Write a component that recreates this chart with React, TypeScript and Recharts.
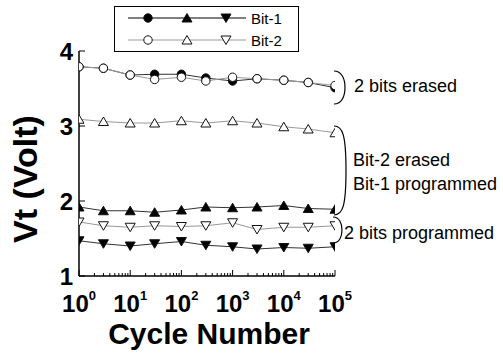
import React from "react";
import { Line, LineChart, XAxis, YAxis } from "recharts";

// cycle counts where Vt was measured
const cycles = [1, 3, 10, 30, 100, 300, 1000, 3000, 10000, 30000, 100000];

// Vt (V) read per state
const bit1Erased = [3.79, 3.77, 3.68, 3.69, 3.69, 3.64, 3.6, 3.63, 3.61, 3.58, 3.51];
const bit2Erased = [3.79, 3.77, 3.68, 3.62, 3.65, 3.6, 3.65, 3.63, 3.61, 3.58, 3.54];
const bit1Mid = [1.92, 1.87, 1.87, 1.85, 1.88, 1.92, 1.91, 1.92, 1.94, 1.9, 1.89];
const bit2Mid = [3.09, 3.06, 3.04, 3.04, 3.07, 3.04, 3.07, 3.04, 2.99, 2.96, 2.91];
const bit1Prog = [1.47, 1.43, 1.4, 1.43, 1.46, 1.41, 1.39, 1.36, 1.38, 1.37, 1.39];
const bit2Prog = [1.72, 1.67, 1.65, 1.67, 1.66, 1.67, 1.71, 1.62, 1.65, 1.65, 1.67];

const xMajorTicks = [1, 10, 100, 1000, 10000, 100000];
const xMinorTicks = xMajorTicks.slice(0, -1).flatMap((d) => [2, 3, 4, 5, 6, 7, 8, 9].map((m) => m * d));
const yTicks = [1, 2, 3, 4];

const FONT = "'Liberation Sans', Arial, Roboto, sans-serif";
const BIT1_LINE = "#333";
const BIT2_LINE = "#999";

type Shape = "circle" | "up" | "down";

const series: Array<{ key: string; values: number[]; shape: Shape; filled: boolean; stroke: string }> = [
  { key: "b1Erased", values: bit1Erased, shape: "circle", filled: true, stroke: BIT1_LINE },
  { key: "b1Mid", values: bit1Mid, shape: "up", filled: true, stroke: BIT1_LINE },
  { key: "b1Prog", values: bit1Prog, shape: "down", filled: true, stroke: BIT1_LINE },
  { key: "b2Erased", values: bit2Erased, shape: "circle", filled: false, stroke: BIT2_LINE },
  { key: "b2Mid", values: bit2Mid, shape: "up", filled: false, stroke: BIT2_LINE },
  { key: "b2Prog", values: bit2Prog, shape: "down", filled: false, stroke: BIT2_LINE },
];

const data = cycles.map((cycle, i) => {
  const row: Record<string, number> = { cycle };
  series.forEach((s) => (row[s.key] = s.values[i]));
  return row;
});

const bold = { fontFamily: FONT, fontWeight: 700 } as const;
const plain = { fontFamily: FONT, fontWeight: 400 } as const;

function Marker({ cx, cy, shape, filled }: { cx: number; cy: number; shape: Shape; filled: boolean }) {
  const fill = filled ? "#000" : "#fff";
  if (shape === "circle") {
    return <circle cx={cx} cy={cy} r={4.2} fill={fill} stroke="#111" strokeWidth={1} />;
  }
  const w = 5;
  const pts =
    shape === "up"
      ? `${cx - w},${cy + 4} ${cx + w},${cy + 4} ${cx},${cy - 4.5}`
      : `${cx - w},${cy - 4} ${cx + w},${cy - 4} ${cx},${cy + 4.5}`;
  return <polygon points={pts} fill={fill} stroke="#111" strokeWidth={1} />;
}

function XTick(props: any) {
  const { x, y, payload } = props;
  const major = xMajorTicks.includes(payload.value);
  const exp = Math.round(Math.log10(payload.value));
  return (
    <g>
      <line x1={x} x2={x} y1={y} y2={y - (major ? 6 : 3)} stroke="#000" strokeWidth={1} />
      {major && (
        <text x={x} y={y + 36} textAnchor="middle" style={{ ...bold, fontSize: 24 }} fill="#000">
          10
          <tspan dy={-12} style={{ fontSize: 13 }}>
            {exp}
          </tspan>
        </text>
      )}
    </g>
  );
}

function YTick(props: any) {
  const { x, y, payload } = props;
  return (
    <g>
      <line x1={x} x2={x + 6} y1={y} y2={y} stroke="#000" strokeWidth={1} />
      <text x={x - 6} y={y + 8.5} textAnchor="end" style={{ ...bold, fontSize: 24 }} fill="#000">
        {payload.value}
      </text>
    </g>
  );
}

function LegendBox() {
  const rows = [
    { label: "Bit-1", filled: true, stroke: "#000", y: 18, base: 24 },
    { label: "Bit-2", filled: false, stroke: BIT2_LINE, y: 40, base: 46 },
  ];
  const shapes: Shape[] = ["circle", "up", "down"];
  return (
    <svg width={503} height={60} style={{ position: "absolute", left: 0, top: 0 }}>
      <rect x={114.5} y={6.5} width={184} height={45} fill="#fff" stroke="#000" strokeWidth={1} />
      {rows.map((r) => (
        <g key={r.label}>
          <line x1={128} x2={246} y1={r.y} y2={r.y} stroke={r.stroke} strokeWidth={1} />
          {shapes.map((s, i) => (
            <Marker key={s} cx={148 + i * 39} cy={r.y} shape={s} filled={r.filled} />
          ))}
          <text x={251} y={r.base} style={{ ...plain, fontSize: 15 }} fill="#000">
            {r.label}
          </text>
        </g>
      ))}
    </svg>
  );
}

function Annotations() {
  const bracket = (x: number, y1: number, y2: number, bulge: number) => {
    const m = (y1 + y2) / 2;
    const k = Math.min(8, (y2 - y1) / 4);
    return `M ${x} ${y1} C ${x + bulge * 0.7} ${y1}, ${x + bulge} ${y1 + k}, ${x + bulge} ${m} C ${x + bulge} ${y2 - k}, ${x + bulge * 0.7} ${y2}, ${x} ${y2}`;
  };
  const t = { style: { ...plain, fontSize: 18 }, fill: "#000" };
  return (
    <svg width={503} height={360} style={{ position: "absolute", left: 0, top: 0, pointerEvents: "none" }}>
      <g fill="none" stroke="#000" strokeWidth={1.2}>
        <path d={bracket(334, 71, 104, 11)} />
        <path d={bracket(334, 126, 215, 12)} />
        <path d={bracket(333, 217, 243, 9)} />
      </g>
      <text x={354} y={92} {...t}>2 bits erased</text>
      <text x={353} y={166} {...t}>Bit-2 erased</text>
      <text x={353} y={190} {...t}>Bit-1 programmed</text>
      <text x={344} y={239} {...t}>2 bits programmed</text>
    </svg>
  );
}

export default function App() {
  const frame = { stroke: "#000", strokeWidth: 1.5 };
  return (
    <div style={{ position: "absolute", left: 0, top: 0, width: 503, height: 360, background: "#fff", fontFamily: FONT }}>
      <LegendBox />
      <div style={{ position: "absolute", left: 0, top: 0 }}>
        <LineChart width={503} height={360} data={data} margin={{ top: 51, right: 168, bottom: 0, left: 0 }}>
          <XAxis
            dataKey="cycle"
            type="number"
            scale="log"
            domain={[1, 100000]}
            allowDataOverflow
            ticks={[...xMajorTicks, ...xMinorTicks]}
            interval={0}
            tick={<XTick />}
            tickLine={false}
            tickSize={0}
            tickMargin={0}
            height={84}
            axisLine={frame}
            label={{
              content: () => (
                <text x={209} y={344} textAnchor="middle" style={{ ...bold, fontSize: 30 }} fill="#000">
                  Cycle Number
                </text>
              ),
            }}
          />
          <XAxis xAxisId="top" orientation="top" type="number" domain={[1, 100000]} height={0} tick={false} tickLine={false} axisLine={frame} />
          <YAxis
            type="number"
            domain={[1, 4]}
            allowDataOverflow
            ticks={yTicks}
            interval={0}
            tick={<YTick />}
            tickLine={false}
            tickSize={0}
            tickMargin={0}
            width={79}
            axisLine={frame}
            label={{
              content: () => (
                <text
                  x={37}
                  y={179}
                  transform="rotate(-90 37 179)"
                  textAnchor="middle"
                  style={{ ...bold, fontSize: 34 }}
                  fill="#000"
                >
                  Vt (Volt)
                </text>
              ),
            }}
          />
          <YAxis yAxisId="right" orientation="right" type="number" domain={[1, 4]} width={0} tick={false} tickLine={false} axisLine={frame} />
          {series.map((s) => (
            <Line
              key={s.key}
              dataKey={s.key}
              stroke={s.stroke}
              strokeWidth={1}
              isAnimationActive={false}
              dot={(p: any) => <Marker key={`${s.key}-${p.index}`} cx={p.cx} cy={p.cy} shape={s.shape} filled={s.filled} />}
            />
          ))}
        </LineChart>
      </div>
      <Annotations />
    </div>
  );
}
